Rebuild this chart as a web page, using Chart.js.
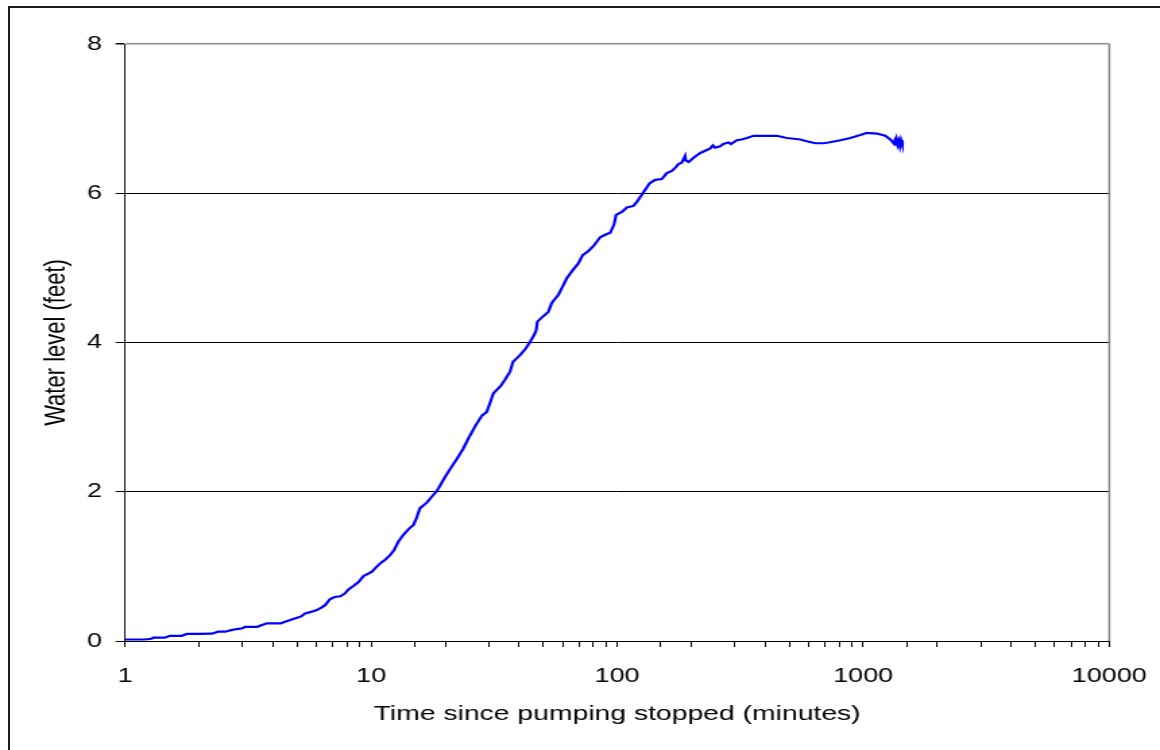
<!DOCTYPE html>
<html>
<head>
<meta charset="utf-8">
<script src="https://cdn.jsdelivr.net/npm/chart.js@4.4.1/dist/chart.umd.min.js"></script>
<style>
  html, body { margin: 0; padding: 0; background: #fff; width: 1160px; height: 750px; overflow: hidden; }
  #frame { position: absolute; left: 8px; top: 6px; width: 1200px; height: 800px; border-left: 2px solid #1a1a1a; border-top: 2px solid #1a1a1a; }
  #c { position: absolute; left: 0; top: 0; transform: scaleX(1.348837); transform-origin: 0 0; }
</style>
</head>
<body>
<div id="frame"></div>
<canvas id="c" width="860" height="750"></canvas>
<script>
// Data
const timesMin = [1.0,1.1,1.2,1.28,1.30,1.45,1.52,1.7,1.78,2.0,2.25,2.39,2.55,2.7,2.85,3.0,3.07,3.45,3.6,3.77,4.3,4.5,4.69,5.0,5.2,5.39,5.7,6.02,6.3,6.5,6.8,7.1,7.5,7.84,8.09,8.5,8.89,9.31,9.7,10.07,10.5,10.88,11.4,11.94,12.4,12.9,13.5,14.2,14.86,15.3,15.8,16.8,17.6,18.5,19.2,20.0,21.0,22.3,23.7,24.9,26.5,28.2,29.5,30.5,31.4,33.5,35.0,36.7,37.7,40.3,42.5,44.3,46.3,46.9,47.4,50.0,52.5,54.2,57.7,60,62.4,66,69.5,72.4,76,80,85.3,89,93.7,97.1,99,104.5,109.5,116.5,120,125.9,135.3,142.6,151.8,159.1,166.7,172,177.4,183,188.8,190,195,205,217.5,228,238.8,245,250,262,270,283.4,290,306.4,320,336.6,358,400,445.4,489.5,554.9,600,640,658,690,723,807,886,973,1035,1136,1228,1288,1328,1340,1350,1365,1380,1395,1410,1425,1440,1459];
const waterLevelFt = [0.02,0.02,0.02,0.03,0.045,0.045,0.07,0.07,0.095,0.095,0.098,0.125,0.125,0.145,0.16,0.17,0.19,0.19,0.215,0.237,0.237,0.26,0.28,0.31,0.33,0.37,0.39,0.415,0.45,0.48,0.56,0.59,0.60,0.64,0.69,0.74,0.79,0.87,0.90,0.93,0.99,1.04,1.09,1.15,1.22,1.33,1.42,1.50,1.555,1.65,1.78,1.85,1.93,2.01,2.10,2.20,2.31,2.44,2.58,2.72,2.88,3.02,3.07,3.20,3.32,3.41,3.50,3.61,3.74,3.83,3.92,4.01,4.12,4.17,4.28,4.35,4.41,4.53,4.64,4.75,4.86,4.97,5.06,5.17,5.22,5.29,5.41,5.44,5.47,5.58,5.71,5.75,5.81,5.83,5.88,5.98,6.13,6.18,6.19,6.27,6.30,6.34,6.39,6.41,6.50,6.44,6.42,6.48,6.54,6.57,6.60,6.64,6.61,6.63,6.66,6.68,6.66,6.71,6.72,6.74,6.77,6.77,6.77,6.74,6.72,6.69,6.67,6.67,6.67,6.68,6.71,6.74,6.78,6.81,6.80,6.77,6.72,6.67,6.70,6.64,6.72,6.65,6.70,6.63,6.71,6.66,6.65];
const xTickLabels = ['1','10','100','1000','10000'];
const yTickValues = [0, 2, 4, 6, 8];
const xTitle = 'Time since pumping stopped (minutes)';
const yTitle = 'Water level (feet)';

const isPow10 = v => Math.abs(Math.log10(v) - Math.round(Math.log10(v))) < 1e-9;

const rightBorder = {
  id: 'rightBorder',
  afterDraw(chart) {
    const {ctx, chartArea: a} = chart;
    ctx.save();
    ctx.strokeStyle = '#8c8c8c';
    ctx.lineWidth = 1.5;
    ctx.beginPath();
    ctx.moveTo(a.right, a.top);
    ctx.lineTo(a.right, a.bottom);
    ctx.stroke();
    ctx.restore();
  }
};

new Chart(document.getElementById('c'), {
  type: 'line',
  data: {
    datasets: [{
      data: timesMin.map((t, i) => ({x: t, y: waterLevelFt[i]})),
      borderColor: '#0000ff',
      borderWidth: 2.2,
      pointRadius: 0,
      tension: 0,
      fill: false
    }]
  },
  options: {
    responsive: false,
    animation: false,
    devicePixelRatio: 1,
    layout: { padding: { left: 0, right: 37.6, top: 44, bottom: 0 } },
    plugins: { legend: { display: false }, tooltip: { enabled: false } },
    scales: {
      x: {
        type: 'logarithmic',
        min: 1,
        max: 10000,
        afterFit(scale) { scale.height = 109; scale.paddingLeft = 0; scale.paddingRight = 0; },
        border: { display: true, color: '#000', width: 1 },
        grid: {
          drawOnChartArea: false,
          drawTicks: true,
          tickLength: 6,
          tickColor: '#000',
          color: '#000'
        },
        ticks: {
          autoSkip: false,
          maxRotation: 0,
          padding: 17,
          color: '#000',
          font: { family: 'Liberation Sans, Arial, sans-serif', size: 20 },
          callback(value) {
            if (!isPow10(value)) return '';
            const s = String(Math.round(value));
            return xTickLabels.includes(s) ? s : '';
          }
        },
        title: {
          display: true,
          text: xTitle,
          color: '#000',
          font: { family: 'Liberation Sans, Arial, sans-serif', size: 21 },
          padding: { top: 0, bottom: 23 }
        }
      },
      y: {
        min: 0,
        max: 8,
        afterFit(scale) { scale.width = 92.7; },
        afterBuildTicks(scale) { scale.ticks = yTickValues.map(v => ({value: v})); },
        border: { display: true, color: '#111', width: 1 },
        grid: {
          drawOnChartArea: true,
          drawTicks: true,
          tickLength: 7,
          tickColor: '#000',
          color: ctx => (ctx.tick && ctx.tick.value === 8) ? '#8c8c8c' : '#000',
          lineWidth: ctx => (ctx.tick && ctx.tick.value === 8) ? 1.5 : 1
        },
        ticks: {
          padding: 10,
          color: '#000',
          font: { family: 'Liberation Sans, Arial, sans-serif', size: 20 }
        },
        title: {
          display: true,
          text: yTitle,
          color: '#000',
          font: { family: 'Liberation Sans, Arial, sans-serif', size: 22 },
          padding: { top: 29, bottom: 0 }
        }
      }
    }
  },
  plugins: [rightBorder]
});
</script>
</body>
</html>
